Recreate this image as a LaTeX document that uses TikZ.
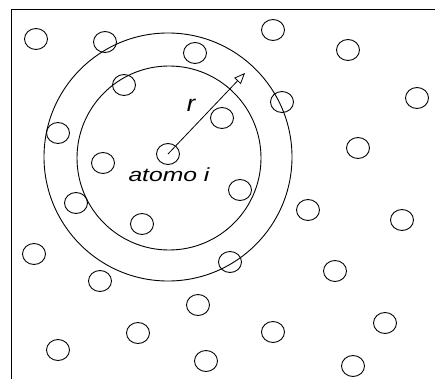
\documentclass[tikz,border=0pt]{standalone}
\usepackage{fontspec}
\setmainfont{Liberation Sans}
\usetikzlibrary{shapes.geometric,arrows.meta}
\tikzset{
  atom/.style={draw, ellipse, minimum width=23pt, minimum height=21pt, inner sep=0pt, line width=0.9pt},
  shell/.style={draw, circle, inner sep=0pt, line width=0.9pt},
  lbl/.style={font=\fontsize{19}{19}\selectfont\itshape, inner sep=0pt}
}
\begin{document}
\begin{tikzpicture}[x=1pt,y=-1pt]
\useasboundingbox (0,0) rectangle (435,379);
\fill[white] (0,0) rectangle (435,379);
\draw[line width=1pt] (11,379) -- (11,10) -- (435,10);
\node[shell, minimum size=184pt] (inner) at (169,158) {};
\node[shell, minimum size=248pt] (outer) at (168,157) {};
\node[atom] (a1) at (36,39) {};
\node[atom] (a2) at (105,42) {};
\node[atom] (a3) at (273,30) {};
\node[atom] (a4) at (348,50) {};
\node[atom] (a5) at (195,53) {};
\node[atom] (a6) at (124,85) {};
\node[atom] (a7) at (417,98) {};
\node[atom] (a8) at (282,102) {};
\node[atom] (a9) at (222,118) {};
\node[atom] (a10) at (58,133) {};
\node[atom] (ai) at (168,154) {};
\node[atom] (a12) at (103,163) {};
\node[atom] (a13) at (358,148) {};
\node[atom] (a14) at (240,190) {};
\node[atom] (a15) at (76,203) {};
\node[atom] (a17) at (308,210) {};
\node[atom] (a18) at (402,220) {};
\node[atom] (a19) at (142,224) {};
\node[atom] (a20) at (34,254) {};
\node[atom] (a21) at (230,262) {};
\node[atom] (a22) at (335,271) {};
\node[atom] (a23) at (100,281) {};
\node[atom] (a24) at (198,305) {};
\node[atom] (a25) at (385,323) {};
\node[atom] (a26) at (138,333) {};
\node[atom] (a27) at (273,332) {};
\node[atom] (a28) at (58,350) {};
\node[atom] (a29) at (206,361) {};
\node[atom] (a30) at (353,366) {};
\coordinate (tip) at (245,73);
\draw[line width=0.8pt, -{Triangle[open, length=11pt, width=9pt]}] (ai.center) -- (tip);
\node[lbl, font=\fontsize{23}{23}\selectfont\itshape] (r) at (191,105) {\scalebox{1.1}[1]{r}};
\node[lbl] (t) at (169,175) {\scalebox{1.3}[1]{atomo i}};
\end{tikzpicture}
\end{document}
